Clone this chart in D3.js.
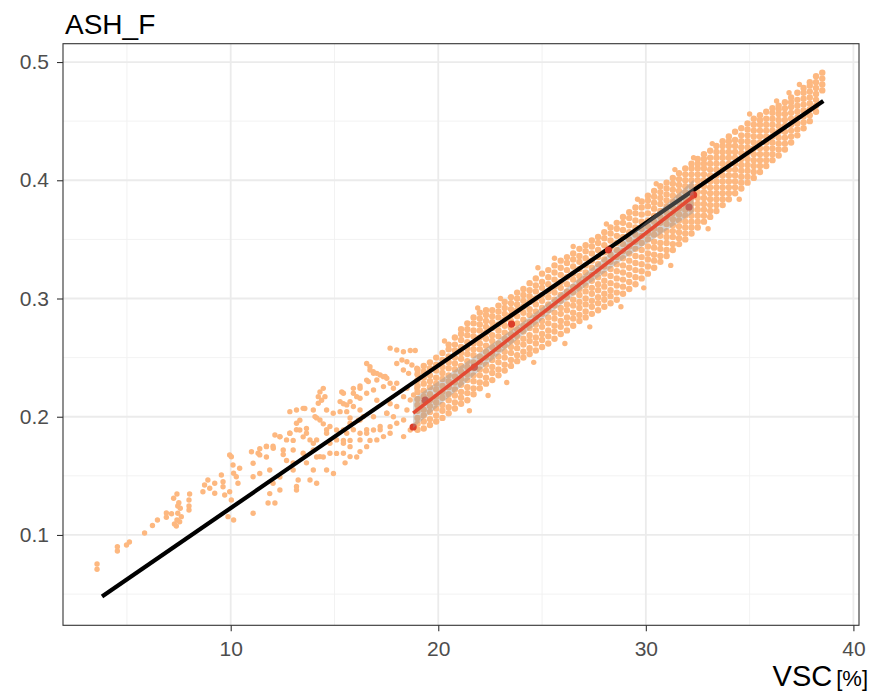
<!DOCTYPE html>
<meta charset="utf-8">
<style>
body { margin: 0; background: #fff; }
svg { font-family: "Liberation Sans", Arial, sans-serif; }
.grid line { stroke: #ebebeb; }
.axis text { fill: #4d4d4d; font-size: 21px; }
.axis line { stroke: #333; stroke-width: 1.1; }
.axis .domain { display: none; }
</style>
<svg width="875" height="691"></svg>
<script src="https://cdn.jsdelivr.net/npm/d3@7"></script>
<script>

// ticks
var xTicks = [10, 20, 30, 40],
    xMinor = [5, 15, 25, 35],
    yTicks = [0.1, 0.2, 0.3, 0.4, 0.5],
    yMinor = [0.05, 0.15, 0.25, 0.35, 0.45];

// sparse orange points, low VSC side
var sparsePts = [
[3.56,.0755],[3.56,.071],[4.54,.090],[4.54,.0865],[4.98,.0915],[5.12,.094],[5.85,.1017],[6.23,.108],[6.47,.1127],[6.9,.1186],[7.15,.118],[6.9,.115],
[7.41,.1347],[7.25,.131],[7.5,.1273],[8.02,.1347],[7.99,.1296],[7.45,.1245],[7.57,.1226],[7.99,.1245],[7.99,.1211],[7.45,.1184],[7.62,.1155],[7.41,.1127],[7.29,.1093],[7.38,.1076],[7.54,.1112],
[8.66,.1366],[8.74,.1423],[8.9,.1465],[8.99,.1395],[9.23,.1437],[9.23,.1353],[9.55,.1507],[9.63,.1451],[9.63,.1408],[9.71,.1338],[9.95,.1677],[10.03,.1662],[10.11,.1592],[10.14,.1522],[10.27,.1493],[10.35,.1437],[10.43,.1564],[9.95,.1366],[10.03,.1296],[9.87,.1155],[10.14,.1127],[11.08,.1184],[11.0,.1704],[11.08,.1606],[11.08,.1493],[11.32,.1691],
[11.4,.173],[11.72,.175],[12.04,.175],[11.4,.152],[11.72,.166],[11.88,.155],[12.13,.1846],[12.37,.183],[12.53,.168],[12.69,.163],[12.85,.186],[13.01,.18],[13.17,.189],[12.04,.1437],[12.37,.138],[11.88,.135],[11.8,.127],[12.13,.127],[12.37,.149],[13.01,.155],[13.17,.141],[13.17,.138],[13.25,.1465],[13.01,.161],
[12.85,.2043],[13.17,.2057],[13.57,.207],[13.33,.197],[13.65,.19],[13.49,.183],[13.98,.2057],[14.22,.217],[14.3,.221],[14.46,.224],[14.38,.214],[14.14,.199],[14.46,.194],[14.62,.189],[13.98,.1775],[14.14,.166],[14.46,.166],[14.78,.1775],[14.62,.155],[14.95,.152],[13.98,.155],[13.82,.1465],[14.14,.1437],[13.65,.161],[15.1,.169],[15.35,.221],[15.43,.211],[15.59,.2043],[15.75,.199],[15.91,.189],[16.15,.197],[16.23,.2057],[15.91,.224],[16.23,.226],[16.55,.245],[16.71,.2395],[16.88,.2367],[16.55,.231],[16.88,.2226],[17.2,.2353],[17.44,.234],[16.23,.2156],[15.59,.186],[15.43,.18],[15.51,.161],[15.75,.18],[16.07,.166],[16.23,.186],[16.55,.189],[16.71,.18],[17.2,.189],[17.52,.203],[17.84,.2],[17.68,.1916],[16.88,.2],[17.04,.214],[17.68,.211],
[17.68,.258],[18.0,.2565],[18.32,.255],[18.65,.256],[18.89,.256],[16.71,.2423],[16.87,.238],[17.04,.2367],[18.0,.245],[18.25,.248],[18.49,.2465],[18.73,.2437],[18.32,.2395],[18.57,.2367],[18.97,.241],
[16.63,.2297],[17.04,.2311],[17.36,.2339],[17.52,.2325],[16.23,.2241],[16.55,.2198],[17.36,.2255],[17.68,.2283],[17.84,.2241],[15.91,.2198],[16.07,.217],[15.75,.2128],[15.43,.2198],[15.27,.2128],[15.59,.21],[15.91,.2086],[15.27,.2043],[14.94,.2029],[14.62,.2057],[14.06,.2001],[14.3,.1973],[14.78,.1917],[15.1,.1888],[15.43,.1888],[15.75,.1945],[16.23,.1973],[16.39,.2001],[17.52,.2029],[18.0,.2086],[18.49,.2057],[18.65,.2142],[18.33,.217],[18.81,.2184],[18.97,.2241],[18.49,.2241],[18.0,.2283],[13.49,.2071],[14.54,.217],[14.22,.2114],[13.17,.1945],[13.33,.1888],[12.85,.186],[12.69,.1804],[13.65,.186],[13.82,.1804],[14.14,.1804],[14.62,.186],[15.1,.1804],[15.43,.1776],[15.75,.1747],[16.23,.1804],[16.55,.186],[16.88,.1888],[17.2,.1917],[18.0,.1945],[18.33,.1973],[18.65,.1888],[11.72,.1747],[12.05,.1733],[11.4,.1677],[12.53,.1719],[12.37,.1832],[13.01,.1719],[13.49,.1691],[13.98,.1719],[14.3,.1663],[14.78,.1691],[15.43,.1691],[15.75,.1663],[16.23,.1705],[16.55,.1747],[17.04,.1804],[17.36,.1832],[17.68,.186],[18.33,.1832]
];

// stray points just outside the dense band
var edgePts = [
[21.5,.205],[22.4,.218],[23.3,.229],[24.6,.246],[26.1,.262],[27.3,.276],[28.8,.293],[29.9,.309],[31.2,.328],[33.0,.359],[34.5,.384],
[24.8,.326],[26.5,.344],[28.1,.363],[29.6,.384],[31.4,.409],[33.2,.431],[35.0,.456],[36.3,.467],[37.4,.481],
[20.3,.264],[21.9,.292],[23.0,.300],[25.6,.334],[30.5,.397],[32.3,.419],[36.9,.474]
];

// dense orange band: one VSC column per entry, ash values
var bandX = [19.0,19.3,19.6,19.9,20.2,20.5,20.8,21.1,21.4,21.7,22.0,22.3,22.6,22.9,23.2,23.5,23.8,24.1,24.4,24.7,25.0,25.3,25.6,25.9,26.2,26.5,26.8,27.1,27.4,27.7,28.0,28.3,28.6,28.9,29.2,29.5,29.8,30.1,30.4,30.7,31.0,31.3,31.6,31.9,32.2,32.5,32.8,33.1,33.4,33.7,34.0,34.3,34.6,34.9,35.2,35.5,35.8,36.1,36.4,36.7,37.0,37.3,37.6,37.9,38.2,38.5];
var bandY = [
[.189,.194,.199,.205,.210,.215,.221,.226,.231,.236,.240],
[.190,.196,.201,.206,.212,.217,.222,.228,.233,.238,.243],
[.193,.198,.204,.209,.214,.219,.225,.230,.235,.241,.246],
[.196,.201,.207,.212,.217,.223,.228,.233,.239,.244,.250],
[.199,.205,.210,.216,.221,.226,.232,.237,.242,.248,.254],
[.203,.208,.214,.219,.225,.230,.235,.241,.246,.251,.257,.261],
[.207,.212,.218,.223,.229,.234,.240,.245,.250,.256,.261,.267],
[.211,.216,.221,.227,.232,.238,.243,.249,.254,.259,.265,.270,.274],
[.214,.220,.225,.231,.236,.242,.247,.253,.258,.263,.269,.274,.279],
[.219,.224,.230,.235,.241,.246,.252,.257,.262,.268,.273,.279,.284],
[.224,.229,.235,.240,.246,.251,.257,.262,.267,.273,.278,.283,.288],
[.228,.233,.239,.244,.250,.255,.260,.266,.271,.276,.281,.286,.290],
[.231,.237,.242,.248,.253,.259,.264,.269,.275,.280,.285,.290],
[.235,.240,.246,.251,.257,.262,.268,.273,.278,.284,.289,.294],
[.239,.244,.250,.255,.260,.266,.271,.277,.282,.287,.292,.297],
[.243,.248,.254,.259,.264,.270,.275,.281,.286,.291,.296,.301],
[.247,.252,.258,.263,.268,.274,.279,.285,.290,.295,.300,.305],
[.250,.255,.261,.266,.272,.277,.282,.288,.293,.298,.303,.308],
[.253,.258,.264,.269,.275,.280,.286,.291,.297,.302,.307,.313],
[.256,.262,.267,.273,.278,.284,.289,.295,.300,.306,.311,.317],
[.259,.265,.270,.276,.281,.287,.292,.298,.303,.309,.314,.321],
[.262,.268,.273,.279,.284,.290,.295,.301,.306,.312,.318,.324],
[.266,.272,.277,.283,.288,.294,.299,.305,.310,.316,.322,.328],
[.270,.276,.281,.287,.292,.298,.303,.309,.314,.320,.326,.332],
[.273,.279,.284,.290,.295,.301,.306,.312,.318,.324,.330,.335],
[.277,.283,.288,.294,.299,.305,.310,.316,.321,.327,.333,.338],
[.281,.286,.292,.297,.303,.308,.314,.319,.325,.331,.336,.342],
[.284,.289,.295,.300,.306,.311,.317,.322,.328,.334,.340,.345],
[.287,.293,.298,.304,.309,.315,.320,.326,.332,.338,.344,.349],
[.290,.296,.301,.307,.312,.318,.323,.329,.335,.341,.347,.352],
[.293,.299,.304,.310,.315,.321,.327,.333,.339,.345,.351,.356],
[.296,.302,.307,.313,.319,.325,.331,.337,.343,.349,.355,.360],
[.299,.305,.311,.317,.323,.329,.335,.341,.347,.353,.359,.364],
[.304,.310,.316,.322,.328,.334,.340,.346,.352,.358,.364,.369],
[.308,.314,.320,.326,.332,.338,.344,.350,.356,.362,.368,.373],
[.312,.318,.324,.330,.336,.342,.348,.354,.360,.366,.372,.377],
[.317,.323,.329,.335,.341,.347,.353,.359,.365,.371,.377,.382],
[.321,.327,.333,.338,.344,.350,.355,.361,.366,.372,.378,.383,.387],
[.326,.332,.337,.343,.348,.354,.359,.365,.370,.376,.381,.386,.391],
[.331,.336,.342,.347,.353,.358,.364,.369,.374,.380,.385,.390,.395],
[.336,.341,.347,.352,.357,.363,.368,.373,.378,.383,.388,.393,.398],
[.341,.346,.352,.357,.362,.367,.372,.377,.382,.387,.392,.397,.402],
[.346,.351,.356,.361,.366,.371,.376,.381,.386,.391,.396,.401,.406],
[.350,.355,.360,.365,.370,.375,.380,.385,.390,.395,.400,.405,.410],
[.355,.360,.365,.370,.375,.380,.385,.390,.395,.400,.405,.410,.414],
[.360,.365,.370,.375,.380,.385,.390,.395,.400,.405,.410,.414,.418],
[.365,.370,.375,.380,.385,.390,.395,.400,.405,.410,.414,.418,.422],
[.369,.374,.379,.384,.389,.394,.399,.404,.409,.414,.419,.425],
[.374,.379,.384,.389,.394,.399,.404,.409,.414,.419,.424,.429],
[.379,.384,.389,.394,.399,.404,.409,.414,.419,.424,.429,.433],
[.384,.389,.394,.399,.404,.409,.414,.419,.424,.429,.433,.437],
[.389,.394,.399,.404,.409,.414,.419,.424,.429,.434,.441],
[.393,.398,.403,.408,.413,.418,.423,.428,.433,.438,.444],
[.398,.403,.408,.413,.418,.423,.428,.433,.438,.443,.448],
[.402,.407,.412,.417,.422,.427,.432,.437,.442,.447,.452],
[.407,.412,.417,.422,.427,.432,.437,.442,.447,.451,.455],
[.412,.417,.422,.427,.432,.437,.442,.447,.452,.458],
[.417,.422,.427,.432,.437,.442,.447,.452,.457,.461],
[.421,.426,.431,.436,.441,.446,.451,.456,.460,.463],
[.426,.431,.436,.441,.446,.451,.456,.461,.466],
[.432,.437,.442,.447,.452,.457,.462,.466,.470],
[.438,.443,.448,.453,.458,.463,.468,.474],
[.444,.449,.454,.459,.464,.469,.474,.478],
[.450,.455,.460,.465,.470,.475,.480,.483],
[.458,.463,.468,.473,.478,.483,.488],
[.476,.481,.486,.491]
];

// overall fit (black)
var fitX = [3.8, 38.55],
    fitY = [0.048, 0.467];

// red sample points, their fit and confidence band
var redX = [18.79, 19.37, 21.74, 23.53, 28.2, 32.08, 32.3],
    redY = [0.1913, 0.214, 0.242, 0.2784, 0.341, 0.3774, 0.3876];
var redFitX = [18.79, 32.3],
    redFitY = [0.203, 0.3865];
var ribX  = [18.79, 20, 22, 24, 25.5, 27, 29, 31, 32.3],
    ribLo = [0.1905, 0.2089, 0.2391, 0.2683, 0.2891, 0.3090, 0.3342, 0.3578, 0.3725],
    ribHi = [0.2155, 0.2299, 0.2541, 0.2793, 0.2991, 0.3200, 0.3492, 0.3798, 0.4005];

var svg = d3.select("svg");
var pLeft = 63, pRight = 859, pTop = 43.7, pBottom = 625.3;

var x = d3.scaleLinear().domain([1.92, 40.27]).range([pLeft, pRight]);
var y = d3.scaleLinear().domain([0.0236, 0.5155]).range([pBottom, pTop]);

// grid
var grid = svg.append("g").attr("class", "grid");
grid.selectAll(".vmin").data(xMinor).enter().append("line")
    .attr("x1", x).attr("x2", x).attr("y1", pTop).attr("y2", pBottom)
    .attr("stroke-width", 0.9).style("stroke", "#f0f0f0");
grid.selectAll(".hmin").data(yMinor).enter().append("line")
    .attr("y1", y).attr("y2", y).attr("x1", pLeft).attr("x2", pRight)
    .attr("stroke-width", 0.9).style("stroke", "#f0f0f0");
grid.selectAll(".vmaj").data(xTicks).enter().append("line")
    .attr("x1", x).attr("x2", x).attr("y1", pTop).attr("y2", pBottom)
    .attr("stroke-width", 1.8);
grid.selectAll(".hmaj").data(yTicks).enter().append("line")
    .attr("y1", y).attr("y2", y).attr("x1", pLeft).attr("x2", pRight)
    .attr("stroke-width", 1.8);

// orange points
var bandPts = [];
bandX.forEach(function(vx, i) {
  bandY[i].forEach(function(vy) { bandPts.push([vx, vy]); });
});

var orange = svg.append("g").attr("fill", "#fdb880");
orange.selectAll(".s")
    .data(sparsePts.concat(edgePts))
  .enter().append("circle")
    .attr("cx", function(d) { return x(d[0]); })
    .attr("cy", function(d) { return y(d[1]); })
    .attr("r", 2.7);
orange.selectAll(".b")
    .data(bandPts)
  .enter().append("circle")
    .attr("cx", function(d) { return x(d[0]); })
    .attr("cy", function(d) { return y(d[1]); })
    .attr("r", 3.2);

// black fit line
var line = d3.line().x(function(d) { return x(d[0]); }).y(function(d) { return y(d[1]); });
svg.append("path")
    .datum(fitX.map(function(v, i) { return [v, fitY[i]]; }))
    .attr("d", line)
    .attr("fill", "none")
    .attr("stroke", "#000")
    .attr("stroke-width", 4.2);

// red points
svg.append("g").selectAll("circle")
    .data(redX.map(function(v, i) { return [v, redY[i]]; }))
  .enter().append("circle")
    .attr("cx", function(d) { return x(d[0]); })
    .attr("cy", function(d) { return y(d[1]); })
    .attr("r", 3.6)
    .attr("fill", "#dc3d2a");

// ribbon
var area = d3.area()
    .x(function(d) { return x(d[0]); })
    .y0(function(d) { return y(d[1]); })
    .y1(function(d) { return y(d[2]); });
svg.append("path")
    .datum(ribX.map(function(v, i) { return [v, ribLo[i], ribHi[i]]; }))
    .attr("d", area)
    .attr("fill", "#999")
    .attr("fill-opacity", 0.4);

svg.append("path")
    .datum(redFitX.map(function(v, i) { return [v, redFitY[i]]; }))
    .attr("d", line)
    .attr("fill", "none")
    .attr("stroke", "#e34a33")
    .attr("stroke-width", 3.6);

// panel border
svg.append("rect")
    .attr("x", pLeft).attr("y", pTop)
    .attr("width", pRight - pLeft).attr("height", pBottom - pTop)
    .attr("fill", "none").attr("stroke", "#333").attr("stroke-width", 1.1);

// axes
svg.append("g")
    .attr("class", "axis")
    .attr("transform", "translate(0," + pBottom + ")")
    .call(d3.axisBottom(x).tickValues(xTicks).tickSize(6).tickPadding(10).tickFormat(d3.format("d")));

svg.append("g")
    .attr("class", "axis")
    .attr("transform", "translate(" + pLeft + ",0)")
    .call(d3.axisLeft(y).tickValues(yTicks).tickSize(6).tickPadding(8).tickFormat(d3.format(".1f")));

// title and axis label
svg.append("text")
    .attr("x", 65).attr("y", 34)
    .attr("font-size", 28)
    .attr("fill", "#000")
    .text("ASH_F");

var xl = svg.append("text")
    .attr("x", 868).attr("y", 686)
    .attr("text-anchor", "end")
    .attr("fill", "#000");
xl.append("tspan").attr("font-size", 29).text("VSC");
xl.append("tspan").attr("font-size", 22).attr("dx", 4).text("[%]");

</script>
